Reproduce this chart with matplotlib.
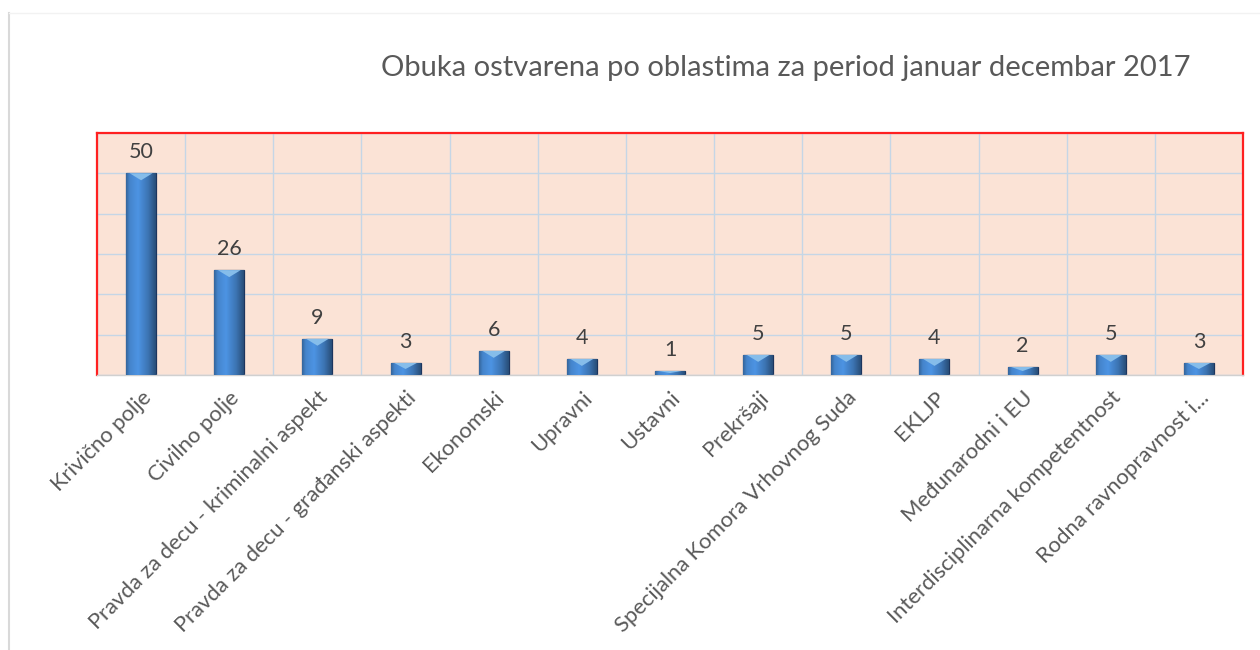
import numpy as np
import matplotlib.pyplot as plt
from matplotlib.lines import Line2D
from matplotlib.patches import Polygon

plt.rcParams['font.family'] = ['Lato', 'DejaVu Sans']

kategorije = ["Krivično polje", "Civilno polje", "Pravda za decu - kriminalni aspekt",
              "Pravda za decu - građanski aspekti", "Ekonomski", "Upravni", "Ustavni",
              "Prekršaji", "Specijalna Komora Vrhovnog Suda", "EKLJP", "Međunarodni i EU",
              "Interdisciplinarna kompetentnost", "Rodna ravnopravnost i..."]
broj_obuka = [50, 26, 9, 3, 6, 4, 1, 5, 5, 4, 2, 5, 3]
naslov = "Obuka ostvarena po oblastima za period januar decembar 2017"

fig = plt.figure(figsize=(12.6, 6.5), dpi=100)
ax = fig.add_axes([0.077, 0.423, 0.9095, 0.3725])
ax.set_facecolor("#fbe3d6")

x = np.arange(len(kategorije))
sirina = 0.34
ax.set_xlim(-0.5, len(kategorije) - 0.5)
ax.set_ylim(0, 60)

# mreza
ax.set_yticks(np.arange(0, 61, 10))
ax.set_xticks(np.arange(-0.5, len(kategorije), 1), minor=True)
ax.grid(axis="y", color="#c5d6e6", lw=1)
ax.grid(axis="x", which="minor", color="#c5d6e6", lw=1)
ax.set_axisbelow(True)
ax.tick_params(axis="y", left=False, labelleft=False)
ax.tick_params(axis="x", which="both", length=0)

bars = ax.bar(x, broj_obuka, width=sirina, color="#3f78b8", edgecolor="#1c355e", lw=0.9, zorder=2)

# gradijent na stubovima
grad = np.linspace(0, 1, 64)
prof = np.interp(grad, [0, 0.12, 0.4, 0.75, 1], [0.45, 0.78, 0.95, 0.6, 0.2])
gimg = np.ones((1, 64, 3))
base = np.array([0.27, 0.52, 0.80])
for i in range(64):
    gimg[0, i, :] = np.clip(base * (0.45 + 0.7 * prof[i]), 0, 1)

pix_po_jed = fig.get_figheight() * fig.dpi * 0.3725 / 60
for b, v in zip(bars, broj_obuka):
    x0 = b.get_x()
    w = b.get_width()
    im = ax.imshow(gimg, extent=(x0, x0 + w, 0, v), aspect="auto", zorder=3)
    im.set_clip_path(b)
    th = min(7 / pix_po_jed, v * 0.5)
    tri = Polygon([[x0 + 0.12 * w, v], [x0 + 0.88 * w, v], [x0 + 0.5 * w, v - th]],
                  closed=True, color="#86bdea", zorder=4, lw=0)
    ax.add_patch(tri)
    ax.annotate(str(v), (x0 + w / 2, v), xytext=(0, 8), textcoords="offset points",
                ha="center", va="bottom", fontsize=15.5, color="#404040")

ax.set_xticks(x)
ax.set_xticklabels(kategorije, rotation=45, ha="right", rotation_mode="anchor",
                   fontsize=15.8, color="#595959")
ax.tick_params(axis="x", pad=9)

for s in ["left", "top", "right"]:
    ax.spines[s].set_color("#ff2020")
    ax.spines[s].set_linewidth(1.6)
ax.spines["bottom"].set_color("#d0d0d0")
ax.spines["bottom"].set_linewidth(1)

fig.text(0.624, 0.895, naslov, ha="center", va="center", fontsize=21, color="#595959")

# okvir grafikona
fig.add_artist(Line2D([0.0075, 0.0075], [0.0, 0.98], color="#d9d9d9", lw=1.5))
fig.add_artist(Line2D([0.0075, 1.0], [0.98, 0.98], color="#f2f2f2", lw=1))

fig.savefig("out.png", dpi=100)
